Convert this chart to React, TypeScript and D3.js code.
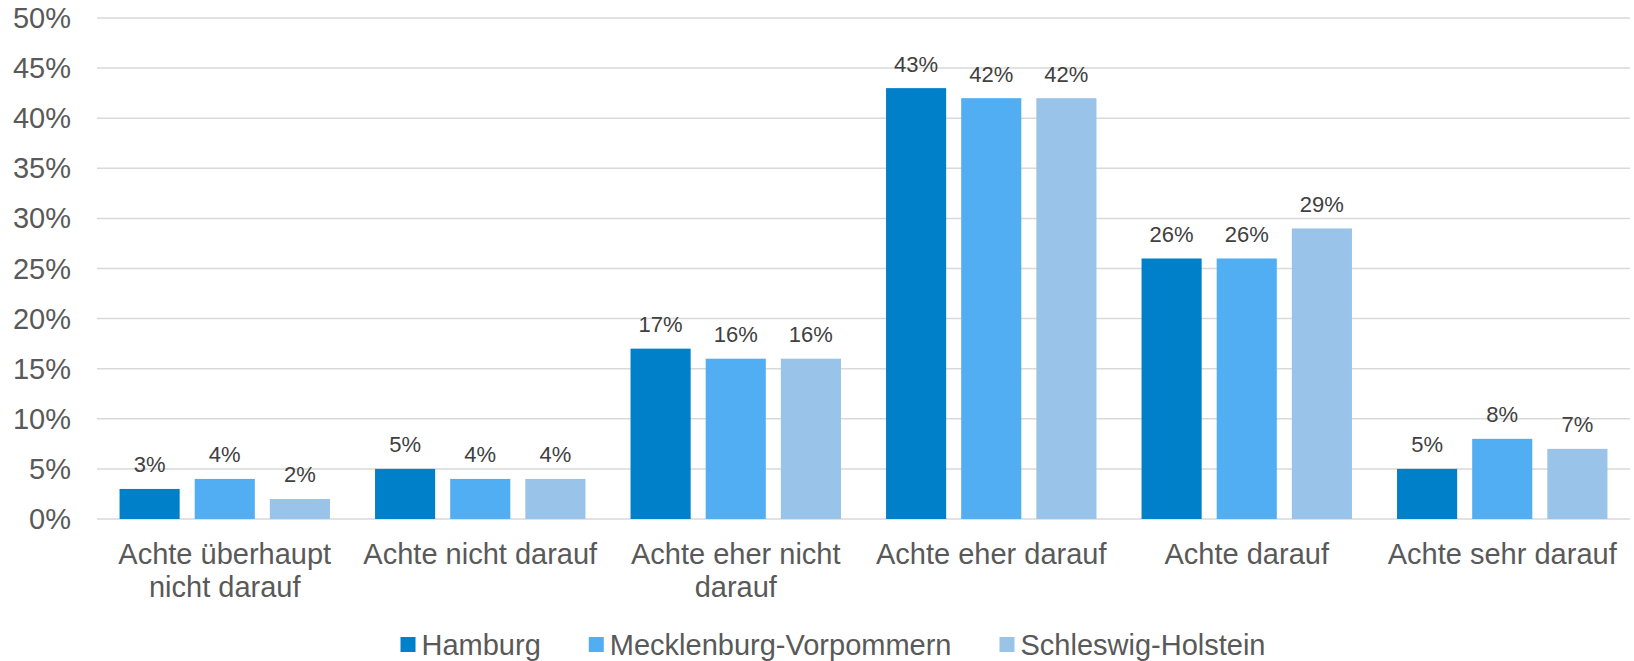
import React, { useEffect, useRef } from 'react';
import * as d3 from 'd3';

const CATEGORIES = [
    ['Achte überhaupt', 'nicht darauf'],
    ['Achte nicht darauf'],
    ['Achte eher nicht', 'darauf'],
    ['Achte eher darauf'],
    ['Achte darauf'],
    ['Achte sehr darauf'],
];
const SERIES_NAMES = ['Hamburg', 'Mecklenburg-Vorpommern', 'Schleswig-Holstein'];
const HAMBURG = [3, 5, 17, 43, 26, 5];
const MECKLENBURG = [4, 4, 16, 42, 26, 8];
const SCHLESWIG = [2, 4, 16, 42, 29, 7];
const Y_TICKS = [0, 5, 10, 15, 20, 25, 30, 35, 40, 45, 50];

const SERIES_COLORS = ['#0080C9', '#52AEF3', '#99C3E9'];
const TEXT_COLOR = '#595959';
const FONT = '"Liberation Sans", Arial, sans-serif';

const WIDTH = 1634;
const HEIGHT = 661;

function drawChart(svgRef)
{
    const svg = d3.select(svgRef.current);
    svg.selectAll('*').remove();
    svg.attr('width', WIDTH).attr('height', HEIGHT).style('font-family', FONT);

    const left = 97;
    const right = 1630;
    const top = 18;
    const bottom = 519;

    const series = [HAMBURG, MECKLENBURG, SCHLESWIG];
    const keys = CATEGORIES.map((c) => c.join(' '));

    const x0 = d3.scaleBand().domain(keys).range([left, right]).padding(0);
    const x1 = d3.scaleBand()
        .domain(SERIES_NAMES)
        .range([0, x0.bandwidth()])
        .paddingInner(0.2)
        .paddingOuter(0.3);
    const y = d3.scaleLinear().domain([0, 50]).range([bottom, top]);

    // gridlines
    svg.append('g')
        .selectAll('line')
        .data(Y_TICKS)
        .join('line')
        .attr('x1', left)
        .attr('x2', right)
        .attr('y1', (d) => y(d))
        .attr('y2', (d) => y(d))
        .attr('stroke', '#D9D9D9')
        .attr('stroke-width', 1.5);

    // y labels
    svg.append('g')
        .selectAll('text')
        .data(Y_TICKS)
        .join('text')
        .attr('x', 71)
        .attr('y', (d) => y(d) + 10)
        .attr('text-anchor', 'end')
        .attr('font-size', 29)
        .attr('fill', TEXT_COLOR)
        .text((d) => `${ d }%`);

    // bars + value labels
    series.forEach((values, si) =>
    {
        const g = svg.append('g');
        g.selectAll('rect')
            .data(values)
            .join('rect')
            .attr('x', (d, i) => x0(keys[i]) + x1(SERIES_NAMES[si]))
            .attr('y', (d) => y(d))
            .attr('width', x1.bandwidth())
            .attr('height', (d) => y(0) - y(d))
            .attr('fill', SERIES_COLORS[si]);

        g.selectAll('text')
            .data(values)
            .join('text')
            .attr('x', (d, i) => x0(keys[i]) + x1(SERIES_NAMES[si]) + x1.bandwidth() / 2)
            .attr('y', (d) => y(d) - 16.5)
            .attr('text-anchor', 'middle')
            .attr('font-size', 22)
            .attr('fill', '#404040')
            .text((d) => `${ d }%`);
    });

    // category labels
    const cat = svg.append('g');
    CATEGORIES.forEach((lines, i) =>
    {
        const t = cat.append('text')
            .attr('x', x0(keys[i]) + x0.bandwidth() / 2)
            .attr('y', 564)
            .attr('text-anchor', 'middle')
            .attr('font-size', 29)
            .attr('fill', TEXT_COLOR);
        lines.forEach((line, li) =>
        {
            t.append('tspan')
                .attr('x', x0(keys[i]) + x0.bandwidth() / 2)
                .attr('dy', li === 0 ? 0 : 33)
                .text(line);
        });
    });

    // legend
    const legend = svg.append('g');
    const items = SERIES_NAMES.map((name, i) =>
    {
        const item = legend.append('g');
        item.append('rect')
            .attr('x', 0)
            .attr('y', 637)
            .attr('width', 15)
            .attr('height', 15)
            .attr('fill', SERIES_COLORS[i]);
        const label = item.append('text')
            .attr('x', 21)
            .attr('y', 655)
            .attr('font-size', 29)
            .attr('fill', TEXT_COLOR)
            .text(name);
        return { item, width: 21 + label.node().getComputedTextLength() };
    });
    const gap = 48;
    const total = d3.sum(items, (d) => d.width) + gap * (items.length - 1);
    let xPos = 833 - total / 2;
    items.forEach((d) =>
    {
        d.item.attr('transform', `translate(${ xPos },0)`);
        xPos += d.width + gap;
    });
}

export default function App()
{
    const svgRef = useRef(null);

    useEffect(() =>
    {
        drawChart(svgRef);
    }, []);

    return (
        <div style={ { position: 'absolute', left: 0, top: 0 } }>
            <svg ref={ svgRef } style={ { display: 'block' } } />
        </div>
    );
}
